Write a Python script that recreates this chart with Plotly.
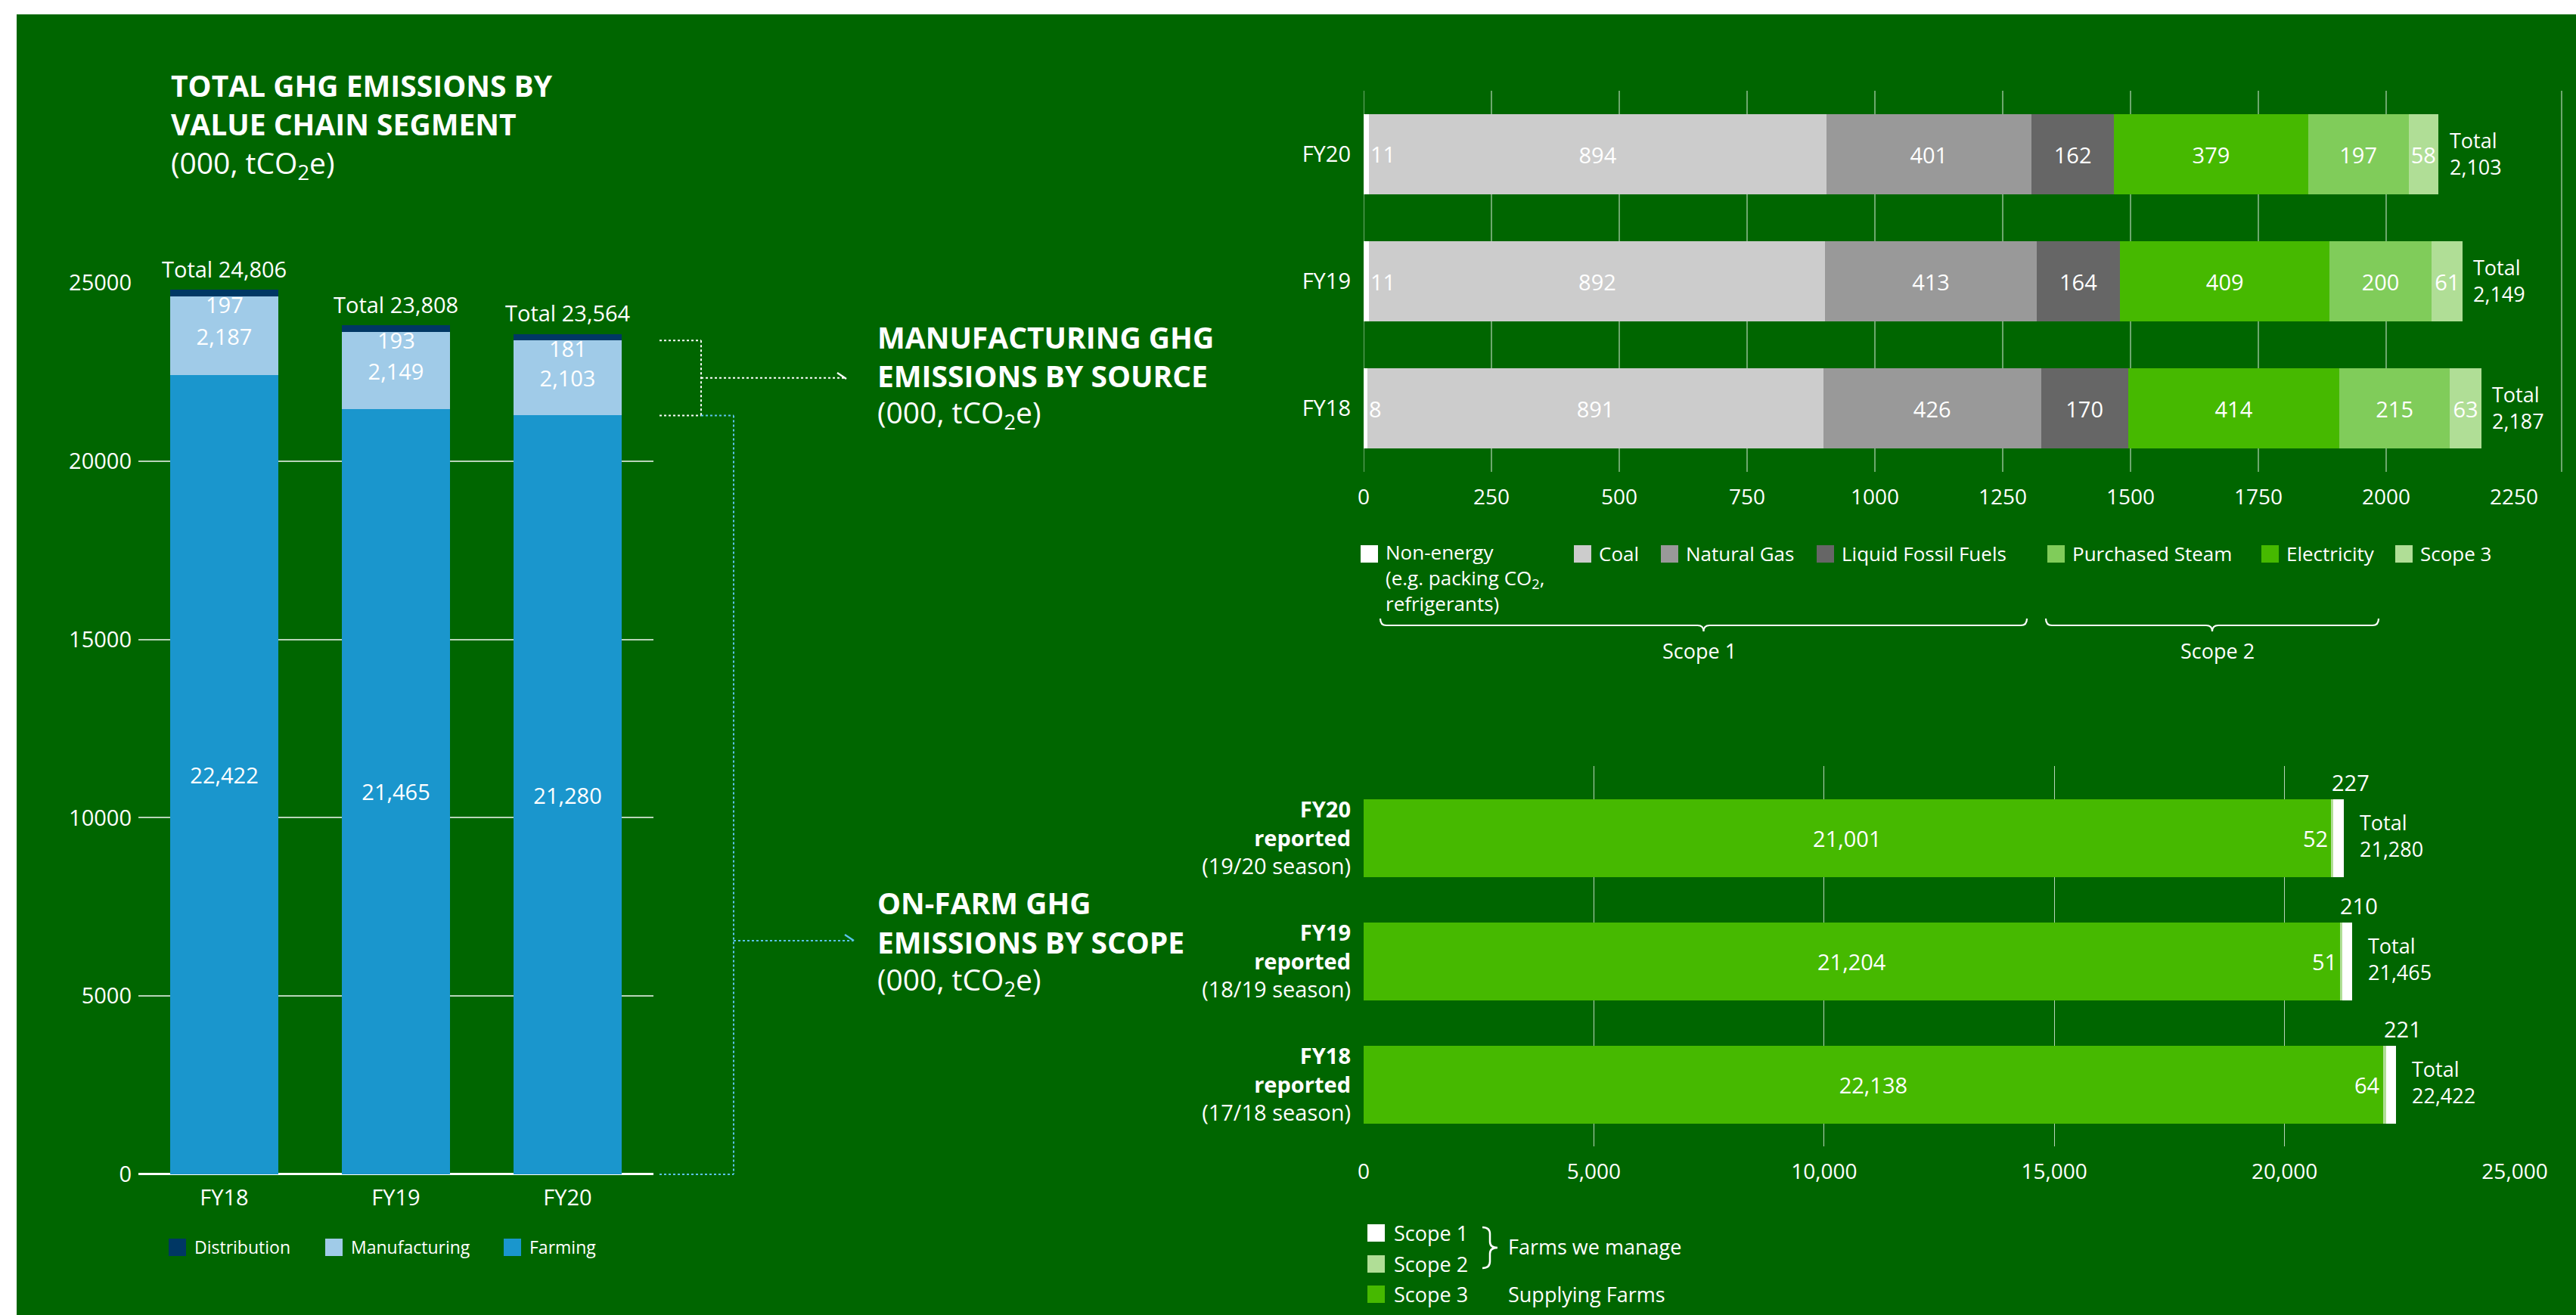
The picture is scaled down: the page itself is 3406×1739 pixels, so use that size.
import plotly.graph_objects as go

W, H = 3406, 1739
FONT = "Open Sans"
WHITE = "#ffffff"
BG = "#006600"
GRID = "rgba(255,255,255,0.72)"
BLUE_DOT = "#5cc3ef"

# ---------------- data ----------------
# Total GHG emissions by value chain segment (000 tCO2e)
years = ["FY18", "FY19", "FY20"]
farming = [22422, 21465, 21280]
manufacturing = [2187, 2149, 2103]
distribution = [197, 193, 181]
value_chain_totals = [24806, 23808, 23564]
left_ticks = [0, 5000, 10000, 15000, 20000, 25000]

# Manufacturing GHG emissions by source (000 tCO2e)
mfg_years = ["FY18", "FY19", "FY20"]
non_energy = [8, 11, 11]
coal = [891, 892, 894]
natural_gas = [426, 413, 401]
liquid_fossil = [170, 164, 162]
electricity = [414, 409, 379]
purchased_steam = [215, 200, 197]
mfg_scope3 = [63, 61, 58]
mfg_totals = [2187, 2149, 2103]
mfg_ticks = [0, 250, 500, 750, 1000, 1250, 1500, 1750, 2000, 2250]
mfg_grid = [0, 250, 500, 750, 1000, 1250, 1500, 1750, 2000]

# On-farm GHG emissions by scope (000 tCO2e)
farm_years = ["FY18", "FY19", "FY20"]
farm_tick_text = [
    "<b>FY18</b><br><b>reported</b><br>(17/18 season)",
    "<b>FY19</b><br><b>reported</b><br>(18/19 season)",
    "<b>FY20</b><br><b>reported</b><br>(19/20 season)",
]
farm_scope3 = [22138, 21204, 21001]
farm_scope2 = [64, 51, 52]
farm_scope1 = [221, 210, 227]
farm_totals = [22422, 21465, 21280]
farm_ticks = [0, 5000, 10000, 15000, 20000, 25000]

# colours
C_FARM, C_MANU, C_DIST = "#1a96cd", "#a0cbe8", "#003764"
C_NONE, C_COAL, C_GAS, C_LIQ = "#ffffff", "#cccccc", "#999999", "#666666"
C_ELEC, C_STEAM, C_S3 = "#46b900", "#80cc5a", "#b0de96"


def px(x):
    return x / W


def py(y):
    return 1 - y / H


def font(size=29, color=WHITE):
    return dict(family=FONT, size=size, color=color)


fig = go.Figure()

# ---------------- left: stacked columns ----------------
fig.add_trace(go.Bar(x=years, y=farming, marker_color=C_FARM, name="Farming",
                     text=farming, texttemplate="%{y:,}", textposition="inside",
                     insidetextanchor="middle", insidetextfont=font(),
                     xaxis="x", yaxis="y"))
fig.add_trace(go.Bar(x=years, y=manufacturing, marker_color=C_MANU, name="Manufacturing",
                     text=manufacturing, texttemplate="%{y:,}", textposition="inside",
                     insidetextanchor="middle", insidetextfont=font(),
                     xaxis="x", yaxis="y"))
fig.add_trace(go.Bar(x=years, y=distribution, marker_color=C_DIST, name="Distribution",
                     textposition="none", xaxis="x", yaxis="y"))

# ---------------- top right: manufacturing by source ----------------
mfg_series = [
    ("Non-energy", non_energy, C_NONE, False),
    ("Coal", coal, C_COAL, True),
    ("Natural Gas", natural_gas, C_GAS, True),
    ("Liquid Fossil Fuels", liquid_fossil, C_LIQ, True),
    ("Electricity", electricity, C_ELEC, True),
    ("Purchased Steam", purchased_steam, C_STEAM, True),
    ("Scope 3", mfg_scope3, C_S3, True),
]
for name, vals, col, lab in mfg_series:
    kw = dict(textposition="none")
    if lab:
        kw = dict(text=vals, texttemplate="%{x}", textposition="inside",
                  insidetextanchor="middle", insidetextfont=font())
    fig.add_trace(go.Bar(y=mfg_years, x=vals, orientation="h", marker_color=col,
                         name=name, xaxis="x2", yaxis="y2", **kw))

# ---------------- bottom right: on-farm by scope ----------------
fig.add_trace(go.Bar(y=farm_years, x=farm_scope3, orientation="h", marker_color=C_ELEC,
                     name="Scope 3", text=farm_scope3, texttemplate="%{x:,}",
                     textposition="inside", insidetextanchor="middle",
                     insidetextfont=font(), xaxis="x3", yaxis="y3"))
fig.add_trace(go.Bar(y=farm_years, x=farm_scope2, orientation="h", marker_color=C_S3,
                     name="Scope 2", textposition="none", xaxis="x3", yaxis="y3"))
fig.add_trace(go.Bar(y=farm_years, x=farm_scope1, orientation="h", marker_color=C_NONE,
                     name="Scope 1", textposition="none", xaxis="x3", yaxis="y3"))

for tr in fig.data:
    tr.marker.line.width = 0
    tr.hoverinfo = "skip"

# ---------------- axes ----------------
L_Y0, L_Y1 = -20, 25020
l_ppu = (1553 - 374) / 25000.0
l_bottom = 1553 + 20 * l_ppu
l_top = 374 - 20 * l_ppu

M_RANGE = (3387 - 1803) / ((3324 - 1803) / 2250.0)

axis_common = dict(showline=False, ticks="", zeroline=False, fixedrange=True,
                   automargin=False)

fig.update_layout(
    xaxis=dict(domain=[px(183), px(864)], anchor="y", tickfont=font(29),
               showgrid=False, ticklabelstandoff=10, **axis_common),
    yaxis=dict(domain=[py(l_bottom), py(l_top)], anchor="x", range=[L_Y0, L_Y1],
               tickvals=left_ticks, tickformat="d", tickfont=font(29),
               showgrid=True, gridcolor=GRID, gridwidth=1.5, ticklabelstandoff=8,
               showline=False, ticks="", zeroline=True, zerolinecolor=WHITE,
               zerolinewidth=2.5, fixedrange=True, automargin=False),
    xaxis2=dict(domain=[px(1803), px(3387)], anchor="y2", range=[0, M_RANGE],
                tickvals=mfg_ticks, tickformat="d", tickfont=font(28),
                showgrid=False, ticklabelstandoff=14, **axis_common),
    yaxis2=dict(domain=[py(624), py(120)], anchor="x2", tickfont=font(29),
                showgrid=False, ticklabelstandoff=16, **axis_common),
    xaxis3=dict(domain=[px(1803), px(3325)], anchor="y3", range=[0, 25000],
                tickvals=farm_ticks, tickformat=",d", tickfont=font(28),
                showgrid=True, gridcolor=GRID, gridwidth=1.2,
                ticklabelstandoff=14, **axis_common),
    yaxis3=dict(domain=[py(1516), py(1013)], anchor="x3", tickfont=font(29),
                tickvals=farm_years, ticktext=farm_tick_text,
                showgrid=False, ticklabelstandoff=16, **axis_common),
)

# ---------------- shapes ----------------
shapes = []
# green panel
shapes.append(dict(type="rect", xref="paper", yref="paper", x0=px(22), x1=1,
                   y0=0, y1=py(19), fillcolor=BG, line=dict(width=0), layer="below"))
# manufacturing chart grid lines (from tick values) and right frame line
for v in mfg_grid:
    shapes.append(dict(type="line", xref="x2", yref="y2 domain", x0=v, x1=v, y0=0, y1=1,
                       line=dict(color=GRID, width=1.2), layer="below"))
shapes.append(dict(type="line", xref="x2 domain", yref="y2 domain", x0=1, x1=1, y0=0, y1=1,
                   line=dict(color=GRID, width=1.2), layer="below"))


def rect_px(x0, y0, x1, y1, col):
    return dict(type="rect", xref="paper", yref="paper", x0=px(x0), x1=px(x1),
                y0=py(y1), y1=py(y0), fillcolor=col, line=dict(width=0))


def path_px(pts_cmds, col, width=2.0, dash=None):
    s = ""
    for cmd, pts in pts_cmds:
        s += cmd + " " + " ".join(f"{px(a):.6f},{py(b):.6f}" for a, b in pts) + " "
    ln = dict(color=col, width=width)
    if dash:
        ln["dash"] = dash
    return dict(type="path", xref="paper", yref="paper", path=s.strip(), line=ln)


# left legend swatches
LEFT_LEG = [(223, C_DIST, "Distribution"), (430, C_MANU, "Manufacturing"),
            (666, C_FARM, "Farming")]
for x0, col, _ in LEFT_LEG:
    shapes.append(rect_px(x0, 1638, x0 + 23, 1661, col))

# top-right legend swatches
TOP_LEG = [(1799, C_NONE), (2081, C_COAL, "Coal"), (2196, C_GAS, "Natural Gas"),
           (2402, C_LIQ, "Liquid Fossil Fuels"), (2707, C_STEAM, "Purchased Steam"),
           (2990, C_ELEC, "Electricity"), (3167, C_S3, "Scope 3")]
for item in TOP_LEG:
    shapes.append(rect_px(item[0], 721, item[0] + 23, 744, item[1]))


def underbrace(x0, x1, ytop=818, ymid=827, ytip=835, r=8):
    xm = (x0 + x1) / 2
    return path_px([
        ("M", [(x0, ytop)]), ("Q", [(x0, ymid), (x0 + r, ymid)]),
        ("L", [(xm - r, ymid)]), ("Q", [(xm, ymid), (xm, ytip)]),
        ("Q", [(xm, ymid), (xm + r, ymid)]), ("L", [(x1 - r, ymid)]),
        ("Q", [(x1, ymid), (x1, ytop)]),
    ], WHITE, 2.2)


shapes.append(underbrace(1825, 2680))
shapes.append(underbrace(2705, 3145))

# bottom-right legend swatches
for y0, col in [(1619, C_NONE), (1660, C_S3), (1700, C_ELEC)]:
    shapes.append(rect_px(1808, y0, 1831, y0 + 23, col))
# right curly brace
shapes.append(path_px([
    ("M", [(1960, 1623)]), ("Q", [(1970, 1623), (1970, 1632)]),
    ("L", [(1970, 1642)]), ("Q", [(1970, 1650), (1980, 1650)]),
    ("Q", [(1970, 1650), (1970, 1658)]), ("L", [(1970, 1668)]),
    ("Q", [(1970, 1677), (1960, 1677)]),
], WHITE, 2.5))

# connectors from the left chart (y from data)
manu_top = farming[2] + manufacturing[2]
farm_top = farming[2]


def hline_data(x0, x1, y, col):
    return dict(type="line", xref="paper", yref="y", x0=px(x0), x1=px(x1), y0=y, y1=y,
                line=dict(color=col, width=2, dash="dot"))


def vline_data(x, y0, y1, col):
    return dict(type="line", xref="paper", yref="y", x0=px(x), x1=px(x), y0=y0, y1=y1,
                line=dict(color=col, width=2, dash="dot"))


shapes += [
    hline_data(872, 927, manu_top, WHITE),
    vline_data(927, manu_top, farm_top, WHITE),
    hline_data(872, 927, farm_top, WHITE),
    hline_data(927, 1118, (manu_top + farm_top) / 2, WHITE),
    hline_data(927, 970, farm_top, BLUE_DOT),
    vline_data(970, farm_top, 0, BLUE_DOT),
    hline_data(872, 970, 0, BLUE_DOT),
    dict(type="line", xref="paper", yref="paper", x0=px(970), x1=px(1128),
         y0=py(1244), y1=py(1244), line=dict(color=BLUE_DOT, width=2, dash="dot")),
    path_px([("M", [(1107, 493)]), ("L", [(1119, 501), (1107, 509)])], WHITE, 2.2),
    path_px([("M", [(1117, 1236)]), ("L", [(1129, 1244), (1117, 1252)])], BLUE_DOT, 2.2),
]

# ---------------- annotations ----------------
anns = []


def ann_px(x, y, text, size=29, xanchor="left", yanchor="middle"):
    anns.append(dict(x=px(x), y=py(y), xref="paper", yref="paper", text=text,
                     showarrow=False, font=font(size), xanchor=xanchor, yanchor=yanchor,
                     align="left"))


def ann_data(xref, yref, x, y, text, xanchor="center", xshift=0, yshift=0, size=29):
    anns.append(dict(x=x, y=y, xref=xref, yref=yref, text=text, showarrow=False,
                     font=font(size), xanchor=xanchor, yanchor="middle",
                     xshift=xshift, yshift=yshift, align="left"))


# titles
ann_px(224, 112, "<b>TOTAL GHG EMISSIONS BY</b>", 39)
ann_px(224, 164, "<b>VALUE CHAIN SEGMENT</b>", 39)
ann_px(224, 217, "(000, tCO<sub>2</sub>e)", 39)
ann_px(1158, 445, "<b>MANUFACTURING GHG</b>", 39)
ann_px(1158, 496, "<b>EMISSIONS BY SOURCE</b>", 39)
ann_px(1158, 547, "(000, tCO<sub>2</sub>e)", 39)
ann_px(1158, 1193, "<b>ON-FARM GHG</b>", 39)
ann_px(1158, 1245, "<b>EMISSIONS BY SCOPE</b>", 39)
ann_px(1158, 1297, "(000, tCO<sub>2</sub>e)", 39)

# left legend
for x0, _, t in LEFT_LEG:
    ann_px(x0 + 32, 1649, t, 23)

# top-right legend
ann_px(TOP_LEG[0][0] + 31, 764, "Non-energy<br>(e.g. packing CO<sub>2</sub>,<br>refrigerants)", 26)
for x0, _, t in TOP_LEG[1:]:
    ann_px(x0 + 31, 732, t, 26)
ann_px(2247, 861, "Scope 1", 27, xanchor="center")
ann_px(2932, 861, "Scope 2", 27, xanchor="center")

# bottom-right legend
ann_px(1841, 1630, "Scope 1", 27)
ann_px(1841, 1671, "Scope 2", 27)
ann_px(1841, 1711, "Scope 3", 27)
ann_px(1992, 1648, "Farms we manage", 27)
ann_px(1992, 1711, "Supplying Farms", 27)

# left chart totals and distribution labels
for i, yr in enumerate(years):
    ann_data("x", "y", yr, value_chain_totals[i], f"Total {value_chain_totals[i]:,}", yshift=28)
    ann_data("x", "y", yr, farming[i] + manufacturing[i], f"{distribution[i]:,}", yshift=-10)

# manufacturing chart: non-energy labels and totals
for i, yr in enumerate(mfg_years):
    ann_data("x2", "y2", non_energy[i], yr, f"{non_energy[i]}", xanchor="left", xshift=0)
    ann_data("x2", "y2", mfg_totals[i], yr, f"Total<br>{mfg_totals[i]:,}", xanchor="left",
             xshift=12, yshift=1, size=27)

# on-farm chart: scope 2, scope 1 and totals
for i, yr in enumerate(farm_years):
    ann_data("x3", "y3", farm_scope3[i], yr, f"{farm_scope2[i]}", xanchor="right", xshift=-2)
    ann_data("x3", "y3", farm_totals[i], yr, f"{farm_scope1[i]}", xanchor="center",
             xshift=9, yshift=74)
    ann_data("x3", "y3", farm_totals[i], yr, f"Total<br>{farm_totals[i]:,}", xanchor="left",
             xshift=19, yshift=4, size=27)

fig.update_layout(
    width=W, height=H, autosize=False,
    margin=dict(l=0, r=0, t=0, b=0, pad=0, autoexpand=False),
    paper_bgcolor=WHITE, plot_bgcolor="rgba(0,0,0,0)",
    barmode="stack", bargap=0.37,
    showlegend=False,
    font=dict(family=FONT, color=WHITE),
    uniformtext=dict(minsize=29, mode="show"),
    shapes=shapes, annotations=anns,
)

fig.write_html(
    "out.html",
    config={"displayModeBar": False},
    post_script="document.documentElement.style.margin='0';"
                "document.body.style.margin='0';"
                "document.body.style.overflow='hidden';",
)
